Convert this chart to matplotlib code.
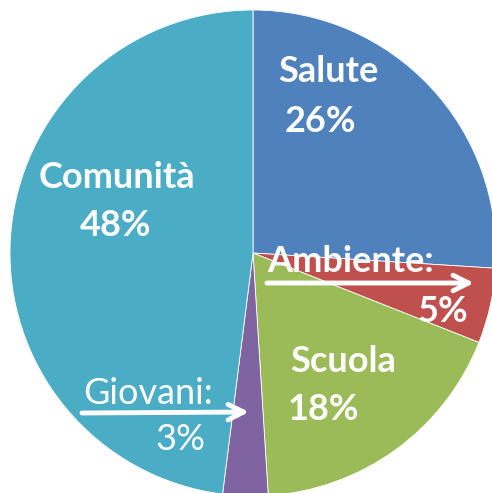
import matplotlib
matplotlib.use("Agg")
import matplotlib.pyplot as plt

# slices, clockwise from the top
labels = ["Salute", "Ambiente", "Scuola", "Giovani", "Comunità"]
values = [26, 5, 18, 3, 48]
colors = ["#4F81BD", "#C0504D", "#9BBB59", "#8064A2", "#4BACC6"]

plt.rcParams['font.family'] = ['Lato', 'DejaVu Sans']

fig = plt.figure(figsize=(4.92, 4.93), dpi=100)
ax = fig.add_axes([0, 0, 1, 1])

# the chart is slightly cropped on right and bottom
cx, cy, r = 253, 240, 243
ax.pie(values, colors=colors, startangle=90, counterclock=False,
       center=(cx, cy), radius=r,
       wedgeprops=dict(linewidth=0.6, edgecolor="white"))
ax.set_xlim(0, 492)
ax.set_ylim(0, 493)
ax.set_aspect('auto')
ax.axis('off')

H = 493
big = 26
# label text: (name, pct, name pos, pct pos, bold)
ax.text(328, H - 72, "Salute", color="white", fontsize=big, fontweight="bold",
        ha="center", va="center")
ax.text(320, H - 121, "26%", color="white", fontsize=big, fontweight="bold",
        ha="center", va="center")

ax.text(117, H - 178, "Comunità", color="white", fontsize=big, fontweight="bold",
        ha="center", va="center")
ax.text(116, H - 225, "48%", color="white", fontsize=big, fontweight="bold",
        ha="center", va="center")

ax.text(343, H - 362, "Scuola", color="white", fontsize=big, fontweight="bold",
        ha="center", va="center")
ax.text(323, H - 409, "18%", color="white", fontsize=big, fontweight="bold",
        ha="center", va="center")

ax.text(351, H - 262, "Ambiente:", color="white", fontsize=big, fontweight="bold",
        ha="center", va="center")
ax.text(443, H - 311, "5%", color="white", fontsize=big, fontweight="bold",
        ha="center", va="center")
ax.annotate("", xy=(474, H - 283), xytext=(267, H - 283),
            arrowprops=dict(arrowstyle="->", color="white", lw=3.5,
                            mutation_scale=28, shrinkA=0, shrinkB=0))

ax.text(148, H - 394, "Giovani:", color="white", fontsize=big,
        ha="center", va="center")
ax.text(180, H - 440, "3%", color="white", fontsize=big,
        ha="center", va="center")
ax.annotate("", xy=(249, H - 412), xytext=(82, H - 413),
            arrowprops=dict(arrowstyle="->", color="white", lw=3.5,
                            mutation_scale=28, shrinkA=0, shrinkB=0))

fig.savefig("out.png", dpi=100)
